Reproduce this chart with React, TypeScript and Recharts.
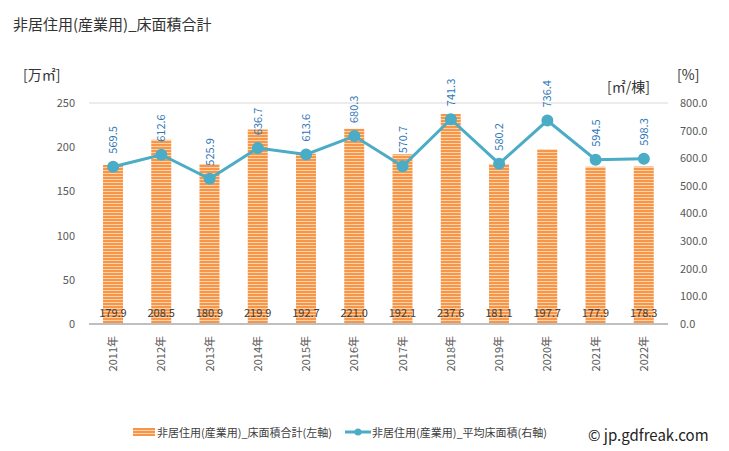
import { ComposedChart, Bar, Line, XAxis, YAxis, CartesianGrid, LabelList } from 'recharts'

const years = ['2011年', '2012年', '2013年', '2014年', '2015年', '2016年', '2017年', '2018年', '2019年', '2020年', '2021年', '2022年']
const floorArea = [179.9, 208.5, 180.9, 219.9, 192.7, 221.0, 192.1, 237.6, 181.1, 197.7, 177.9, 178.3]
const avgArea = [569.5, 612.6, 525.9, 636.7, 613.6, 680.3, 570.7, 741.3, 580.2, 736.4, 594.5, 598.3]
const leftTicks = [0, 50, 100, 150, 200, 250]
const rightTicks = [0, 100, 200, 300, 400, 500, 600, 700, 800]

const data = years.map((y, i) => ({ year: y, area: floorArea[i], avg: avgArea[i] }))

const font = '"Noto Sans CJK JP", "Noto Sans", sans-serif'

const XTick = (props: any) => {
  const { x, y, payload } = props
  return (
    <text x={x} y={y} transform={`rotate(-90 ${x} ${y})`} textAnchor="end" dy={4} dx={-4}
      fontSize={11} fill="#595959" fontFamily={font}>
      {payload.value}
    </text>
  )
}

const BarLabel = (props: any) => {
  const { x, y, width, height, value } = props
  return (
    <text x={x + width / 2} y={y + height - 7} textAnchor="middle" fontSize={11} fill="#404040" fontFamily={font}>
      {Number(value).toFixed(1)}
    </text>
  )
}

const LineLabel = (props: any) => {
  const { x, y, value } = props
  const ly = y - 13
  return (
    <text x={x} y={ly} transform={`rotate(-90 ${x} ${ly})`} textAnchor="start" dy={4} fontSize={11}
      fill="#2e75b6" fontFamily={font}>
      {Number(value).toFixed(1)}
    </text>
  )
}

export default function App() {
  return (
    <div style={{ position: 'absolute', left: 0, top: 0, width: 729, height: 451, background: '#fff', fontFamily: font }}>
      <div style={{ position: 'absolute', left: 13, top: 13, fontSize: 15, color: '#333' }}>非居住用(産業用)_床面積合計</div>
      <div style={{ position: 'absolute', left: 23, top: 64, fontSize: 14, color: '#333' }}>[万㎡]</div>
      <div style={{ position: 'absolute', left: 607, top: 76, fontSize: 14, color: '#333' }}>[㎡/棟]</div>
      <div style={{ position: 'absolute', left: 677, top: 64, fontSize: 14, color: '#333' }}>[%]</div>
      <ComposedChart width={729} height={451} data={data} margin={{ top: 103, right: 11, left: 25, bottom: 77 }}>
        <defs>
          <pattern id="stripes" width="4" height="3" patternUnits="userSpaceOnUse">
            <rect width="4" height="3" fill="#fcd3ae" />
            <rect width="4" height="2" fill="#f79646" />
          </pattern>
        </defs>
        <CartesianGrid vertical={false} stroke="#d9d9d9" />
        <XAxis dataKey="year" tick={<XTick />} tickLine={false} axisLine={{ stroke: '#bfbfbf', strokeWidth: 2 }} height={50} interval={0} />
        <YAxis yAxisId="l" domain={[0, 250]} ticks={leftTicks} width={64} axisLine={false} tickLine={false}
          tick={{ fontSize: 11, fill: '#595959', fontFamily: font, dx: -6 }} />
        <YAxis yAxisId="r" orientation="right" domain={[0, 800]} ticks={rightTicks} width={50} axisLine={false} tickLine={false}
          tickFormatter={(v: number) => v.toFixed(1)} tick={{ fontSize: 11, fill: '#595959', fontFamily: font, dx: 4 }} />
        <Bar yAxisId="l" dataKey="area" fill="url(#stripes)" barSize={20} isAnimationActive={false}>
          <LabelList dataKey="area" content={<BarLabel />} />
        </Bar>
        <Line yAxisId="r" dataKey="avg" stroke="#4bacc6" strokeWidth={3} dot={{ r: 4.5, fill: '#4bacc6', stroke: '#4bacc6' }}
          isAnimationActive={false}>
          <LabelList dataKey="avg" content={<LineLabel />} />
        </Line>
      </ComposedChart>
      <div style={{ position: 'absolute', left: 133, top: 424, fontSize: 11, color: '#404040', display: 'flex', alignItems: 'center' }}>
        <svg width={22} height={8} style={{ marginRight: 2 }}>
          <rect width={22} height={8} fill="#f79646" />
          <rect y={2} width={22} height={1} fill="#fcd3ae" />
          <rect y={5} width={22} height={1} fill="#fcd3ae" />
        </svg>
        非居住用(産業用)_床面積合計(左軸)
      </div>
      <div style={{ position: 'absolute', left: 345, top: 424, fontSize: 11, color: '#404040', display: 'flex', alignItems: 'center' }}>
        <svg width={26} height={10} style={{ marginRight: 1 }}>
          <line x1={0} y1={5} x2={26} y2={5} stroke="#4bacc6" strokeWidth={3} />
          <circle cx={13} cy={5} r={3.5} fill="#4bacc6" />
        </svg>
        非居住用(産業用)_平均床面積(右軸)
      </div>
      <div style={{ position: 'absolute', left: 588, top: 424, fontSize: 15, color: '#222' }}>© jp.gdfreak.com</div>
    </div>
  )
}
